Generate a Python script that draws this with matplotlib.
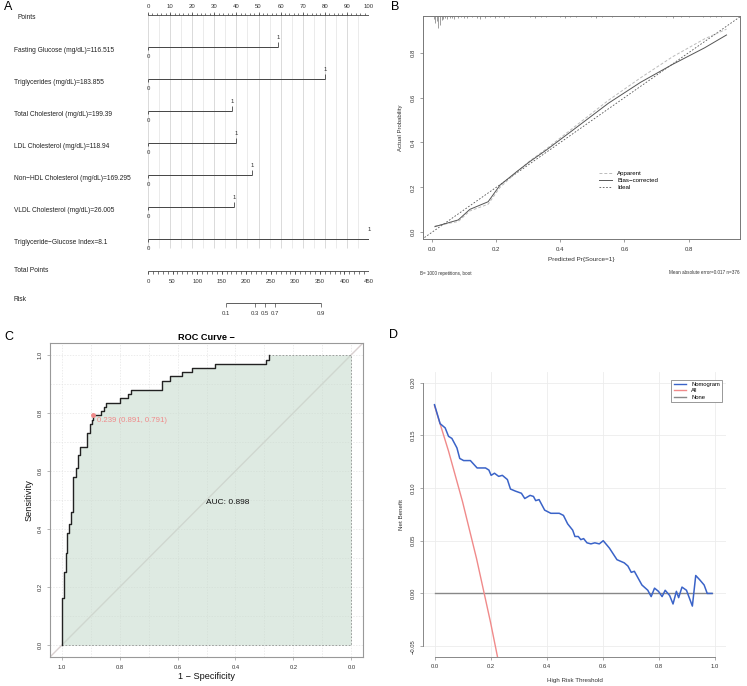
import numpy as np
import matplotlib.pyplot as plt
from matplotlib.transforms import blended_transform_factory
from matplotlib.lines import Line2D

plt.rcParams['font.family'] = ['Liberation Sans', 'DejaVu Sans']

# ---------------- data ----------------
# A: nomogram
nomo_vars = ["Fasting Glucose (mg/dL)=116.515",
             "Triglycerides (mg/dL)=183.855",
             "Total Cholesterol (mg/dL)=199.39",
             "LDL Cholesterol (mg/dL)=118.94",
             "Non\u2212HDL Cholesterol (mg/dL)=169.295",
             "VLDL Cholesterol (mg/dL)=26.005",
             "Triglyceride\u2212Glucose Index=8.1"]
nomo_points = [58.8, 80.1, 37.9, 39.8, 47.2, 38.8, 100.0]
points_ticks = np.arange(0, 101, 10)
total_ticks = np.arange(0, 451, 50)
risk_labels = ["0.1", "0.3", "0.5", "0.7", "0.9"]
risk_total = [158.8, 217.9, 238.2, 258.6, 352.3]

# B: calibration
cal_x = [0.009, 0.082, 0.118, 0.175, 0.212, 0.264, 0.305, 0.357, 0.44,
         0.55, 0.65, 0.75, 0.85, 0.918]
bias_y = [0.025, 0.055, 0.102, 0.136, 0.210, 0.270, 0.315, 0.367, 0.456,
          0.575, 0.668, 0.748, 0.822, 0.879]
app_y = [0.028, 0.048, 0.095, 0.125, 0.200, 0.268, 0.318, 0.372, 0.465,
         0.588, 0.688, 0.782, 0.862, 0.905]
rug_x = [0.005, 0.010, 0.015, 0.020, 0.025, 0.030, 0.035, 0.040, 0.047,
         0.055, 0.062, 0.070, 0.080, 0.090, 0.100, 0.110, 0.125, 0.140,
         0.150, 0.165, 0.180, 0.195, 0.210, 0.225, 0.240, 0.305, 0.320,
         0.340, 0.355, 0.400, 0.415, 0.430, 0.450, 0.495, 0.510, 0.530,
         0.560, 0.630, 0.645, 0.665, 0.730, 0.750, 0.775, 0.800, 0.845,
         0.865, 0.885, 0.900]
rug_len = [0.012, 0.030, 0.022, 0.055, 0.040, 0.018, 0.015, 0.010, 0.012,
           0.010, 0.008, 0.012, 0.008, 0.006, 0.010, 0.008, 0.006, 0.008,
           0.012, 0.010, 0.006, 0.008, 0.006, 0.010, 0.006, 0.006, 0.008,
           0.006, 0.006, 0.006, 0.008, 0.006, 0.006, 0.006, 0.008, 0.006,
           0.006, 0.006, 0.006, 0.006, 0.006, 0.008, 0.006, 0.006, 0.006,
           0.006, 0.006, 0.006]

# C: ROC (specificity, sensitivity) step corners
roc_spec = [1.0, 1.0, 0.998, 0.992, 0.990, 0.986, 0.980, 0.975, 0.969,
            0.959, 0.952, 0.944, 0.938, 0.913, 0.903, 0.896, 0.891, 0.863,
            0.852, 0.848, 0.800, 0.771, 0.760, 0.654, 0.625, 0.584, 0.551,
            0.470, 0.294, 0.283]
roc_sens = [0.0, 0.093, 0.162, 0.197, 0.253, 0.317, 0.386, 0.417, 0.460,
            0.580, 0.610, 0.655, 0.684, 0.731, 0.762, 0.775, 0.791, 0.807,
            0.820, 0.833, 0.850, 0.866, 0.879, 0.908, 0.925, 0.940, 0.954,
            0.969, 0.983, 1.0]
best_spec, best_sens, best_thr = 0.891, 0.791, 0.239
auc = 0.898

# D: decision curve
dca_x = [0.0, 0.020, 0.038, 0.050, 0.062, 0.080, 0.090, 0.104, 0.128, 0.152,
         0.182, 0.194, 0.202, 0.214, 0.229, 0.242, 0.260, 0.271, 0.289, 0.310,
         0.322, 0.341, 0.353, 0.361, 0.373, 0.393, 0.415, 0.445, 0.460, 0.475,
         0.493, 0.501, 0.513, 0.522, 0.532, 0.544, 0.558, 0.572, 0.588, 0.602,
         0.624, 0.651, 0.677, 0.690, 0.702, 0.713, 0.740, 0.761, 0.773, 0.785,
         0.799, 0.812, 0.823, 0.839, 0.851, 0.863, 0.871, 0.883, 0.899, 0.920,
         0.932, 0.946, 0.962, 0.973, 0.990]
dca_nomo = [0.179, 0.161, 0.157, 0.149, 0.147, 0.138, 0.128, 0.126, 0.126,
            0.119, 0.119, 0.117, 0.112, 0.114, 0.111, 0.112, 0.108, 0.099,
            0.097, 0.095, 0.090, 0.093, 0.092, 0.088, 0.089, 0.079, 0.076,
            0.076, 0.074, 0.066, 0.060, 0.054, 0.054, 0.051, 0.052, 0.048,
            0.047, 0.048, 0.047, 0.050, 0.043, 0.032, 0.029, 0.026, 0.020,
            0.021, 0.008, 0.003, -0.003, 0.005, 0.002, -0.003, 0.003, -0.002,
            -0.010, 0.002, -0.004, 0.006, 0.003, -0.012, 0.017, 0.013, 0.008,
            0.0, 0.0]
all_x = [0.0, 0.05, 0.10, 0.15, 0.20, 0.225]
all_y = [0.178, 0.135, 0.087, 0.033, -0.0275, -0.0605]
none_x = [0.0, 0.99]
none_y = [0.0, 0.0]

# ---------------- figure ----------------
W, H = 747, 686
fig = plt.figure(figsize=(W / 100, H / 100), dpi=100)


def px_axes(x0, y0, x1, y1):
    return fig.add_axes([x0 / W, 1 - y1 / H, (x1 - x0) / W, (y1 - y0) / H])


dark = '#444444'

# ---- A: nomogram ----
axA = px_axes(148, 0, 369, 320)
axA.set_xlim(0, 100)
axA.set_ylim(9.53, -0.469)
axA.axis('off')
trans = blended_transform_factory(fig.transFigure, axA.transData)

for g in np.arange(0, 101, 5):
    c = '#d4d4d4' if g % 10 == 0 else '#e8e8e8'
    axA.vlines(g, 0, 7.28, color=c, lw=0.6, zorder=0)

# points axis
axA.hlines(0, 0, 100, color=dark, lw=0.6)
axA.vlines(np.arange(0, 101, 2), -0.06, 0, color=dark, lw=0.5)
axA.vlines(points_ticks, -0.1, 0, color=dark, lw=0.5)
for t in points_ticks:
    axA.text(t, -0.27, str(t), ha='center', va='center', fontsize=4.3, color='#333')
axA.text(17 / W, 0.08, "Points", transform=trans, va='center', fontsize=4.8, color='#222')

for i, (lab, p) in enumerate(zip(nomo_vars, nomo_points), start=1):
    axA.hlines(i, 0, p, color=dark, lw=0.7)
    axA.vlines(0, i, i + 0.1, color=dark, lw=0.6)
    axA.vlines(p, i - 0.17, i, color=dark, lw=0.6)
    axA.text(p, -0.30 + i, "1", ha='center', va='center', fontsize=4.3, color='#333')
    axA.text(0, i + 0.30, "0", ha='center', va='center', fontsize=4.3, color='#333')
    axA.text(14 / W, i + 0.1, lab, transform=trans, va='center', fontsize=4.8, color='#222')

# total points
axA.hlines(8, 0, 100, color=dark, lw=0.6)
axA.vlines(np.arange(0, 451, 10) / 4.5, 8, 8.08, color=dark, lw=0.5)
axA.vlines(total_ticks / 4.5, 8, 8.1, color=dark, lw=0.5)
for t in total_ticks:
    axA.text(t / 4.5, 8.32, str(t), ha='center', va='center', fontsize=4.3, color='#333')
axA.text(14 / W, 7.97, "Total Points", transform=trans, va='center', fontsize=4.8, color='#222')

# risk
rx = np.array(risk_total) / 4.5
axA.hlines(9, rx[0], rx[-1], color=dark, lw=0.6)
axA.vlines(rx, 9, 9.12, color=dark, lw=0.5)
for x, lab in zip(rx, risk_labels):
    axA.text(x, 9.34, lab, ha='center', va='center', fontsize=4.3, color='#333')
axA.text(14 / W, 8.9, "Risk", transform=trans, va='center', fontsize=4.8, color='#222')

# ---- B: calibration ----
axB = px_axes(423, 16, 740, 239)
axB.set_xlim(-0.028, 0.96)
axB.set_ylim(-0.030, 0.9635)
axB.plot([-0.1, 1.1], [-0.1, 1.1], color='#555', lw=0.6, ls=(0, (2, 2)))
axB.plot(cal_x, app_y, color='#bbbbbb', lw=0.7, ls=(0, (3, 2)))
axB.plot(cal_x, bias_y, color='#555555', lw=0.7)
top = axB.get_ylim()[1]
axB.vlines(rug_x, top - np.array(rug_len), top, color='#777', lw=0.5)
for s in axB.spines.values():
    s.set_color('#777')
    s.set_linewidth(0.7)
axB.set_xticks([0, 0.2, 0.4, 0.6, 0.8])
axB.set_yticks([0, 0.2, 0.4, 0.6, 0.8])
axB.set_xticklabels(["0.0", "0.2", "0.4", "0.6", "0.8"])
axB.set_yticklabels(["0.0", "0.2", "0.4", "0.6", "0.8"], rotation=90, va='center')
axB.tick_params(labelsize=4.3, length=2.5, width=0.5, color='#777', labelcolor='#333', pad=3)
axB.set_xlabel("Predicted Pr{Source=1}", fontsize=4.6, color='#333', labelpad=4)
axB.set_ylabel("Actual Probability", fontsize=4.3, color='#333', labelpad=5)
hB = [Line2D([], [], color='#bbbbbb', lw=0.7, ls=(0, (3, 2))),
      Line2D([], [], color='#555555', lw=0.7),
      Line2D([], [], color='#555', lw=0.6, ls=(0, (2, 2)))]
axB.legend(hB, ["Apparent", "Bias\u2212corrected", "Ideal"], loc='upper left',
           bbox_to_anchor=(0.545, 0.32), frameon=False, fontsize=4.4,
           handlelength=2.2, handletextpad=0.8, labelspacing=0.3, borderpad=0)
fig.text(420 / W, 1 - 273 / H, "B= 1000 repetitions, boot", fontsize=3.3, color='#333', va='center')
fig.text(740 / W, 1 - 273 / H, "Mean absolute error=0.017 n=376", fontsize=3.3,
         color='#333', va='center', ha='right')

# ---- C: ROC ----
axC = px_axes(50, 343, 363, 657)
axC.set_xlim(1.04, -0.04)
axC.set_ylim(-0.04, 1.04)
for g in np.arange(0, 1.01, 0.1):
    axC.axvline(g, color='#e4e4e4', lw=0.5, ls=(0, (2, 2)), zorder=0)
    axC.axhline(g, color='#e4e4e4', lw=0.5, ls=(0, (2, 2)), zorder=0)
axC.plot([1.1, -0.1], [-0.1, 1.1], color='#d9d0d0', lw=1.0, zorder=1)
px_s, py_s = [], []
for k in range(len(roc_spec)):
    if k > 0:
        px_s.append(roc_spec[k])
        py_s.append(roc_sens[k - 1])
    px_s.append(roc_spec[k])
    py_s.append(roc_sens[k])
axC.fill(px_s + [0.0, 0.0], py_s + [1.0, 0.0], facecolor='#c9dccf', alpha=0.6,
         edgecolor='#555', lw=0.6, ls=(0, (2, 2)), zorder=2)
axC.plot(roc_spec, roc_sens, drawstyle='steps-post', color='#222', lw=1.0, zorder=3)
axC.plot(best_spec, best_sens, 'o', color='#f08a8a', ms=2.5, zorder=4)
axC.text(best_spec - 0.014, best_sens - 0.018,
         f"{best_thr:.3f} ({best_spec:.3f}, {best_sens:.3f})",
         color='#f08a8a', fontsize=5.6, va='center', ha='left', zorder=4)
axC.text(0.5, 0.49, f"AUC: {auc:.3f}", fontsize=6, va='center', ha='left', color='#111', zorder=4)
for s in axC.spines.values():
    s.set_color('#999')
    s.set_linewidth(0.8)
axC.set_xticks([1.0, 0.8, 0.6, 0.4, 0.2, 0.0])
axC.set_xticklabels(["1.0", "0.8", "0.6", "0.4", "0.2", "0.0"])
axC.set_yticks([0.0, 0.2, 0.4, 0.6, 0.8, 1.0])
axC.set_yticklabels(["0.0", "0.2", "0.4", "0.6", "0.8", "1.0"], rotation=90, va='center')
axC.tick_params(labelsize=4.2, length=2.5, width=0.5, color='#999', labelcolor='#333', pad=3)
axC.set_xlabel("1 \u2212 Specificity", fontsize=6.6, color='#111', labelpad=2)
axC.set_ylabel("Sensitivity", fontsize=6.6, color='#111', labelpad=3)
axC.set_title("ROC Curve \u2212", fontsize=6.6, fontweight='bold', pad=2.5)

# ---- D: decision curve ----
axD = px_axes(423.3, 372, 726, 656.7)
axD.set_xlim(-0.04, 1.04)
axD.set_ylim(-0.06, 0.21)
axD.set_xticks([0, 0.2, 0.4, 0.6, 0.8, 1.0])
axD.set_yticks([-0.05, 0.0, 0.05, 0.10, 0.15, 0.20])
axD.grid(color='#ececec', lw=0.6)
axD.set_axisbelow(True)
axD.plot(none_x, none_y, color='#888', lw=1.0)
axD.plot(all_x, all_y, color='#f08a8a', lw=1.0)
axD.plot(dca_x, dca_nomo, color='#3a63c8', lw=1.1)
for side in ['top', 'right']:
    axD.spines[side].set_visible(False)
axD.spines['left'].set_bounds(-0.05, 0.20)
axD.spines['bottom'].set_bounds(0, 1)
for side in ['left', 'bottom']:
    axD.spines[side].set_color('#888')
    axD.spines[side].set_linewidth(0.7)
axD.set_xticklabels(["0.0", "0.2", "0.4", "0.6", "0.8", "1.0"])
axD.set_yticklabels(["\u22120.05", "0.00", "0.05", "0.10", "0.15", "0.20"], rotation=90, va='center')
axD.tick_params(labelsize=4.2, length=2.5, width=0.5, color='#888', labelcolor='#333', pad=3)
axD.set_xlabel("High Risk Threshold", fontsize=4.5, color='#333', labelpad=6)
axD.set_ylabel("Net Benefit", fontsize=4.5, color='#333', labelpad=5)
hD = [Line2D([], [], color='#3a63c8', lw=1.0),
      Line2D([], [], color='#f08a8a', lw=1.0),
      Line2D([], [], color='#888', lw=1.0)]
legD = axD.legend(hD, ["Nomogram", "All", "None"], loc='upper right',
                  bbox_to_anchor=(0.997, 0.983), fontsize=4.2, fancybox=False,
                  handlelength=2.2, handletextpad=0.8, labelspacing=0.2,
                  borderpad=0.4, framealpha=1)
legD.get_frame().set_edgecolor('#888')
legD.get_frame().set_linewidth(0.6)

# panel letters
for lab, (x, y) in zip("ABCD", [(4, 7), (391, 7), (4, 337), (389, 335)]):
    fig.text(x / W, 1 - y / H, lab, fontsize=9, va='center', ha='left')

fig.savefig("out.png", dpi=100)
